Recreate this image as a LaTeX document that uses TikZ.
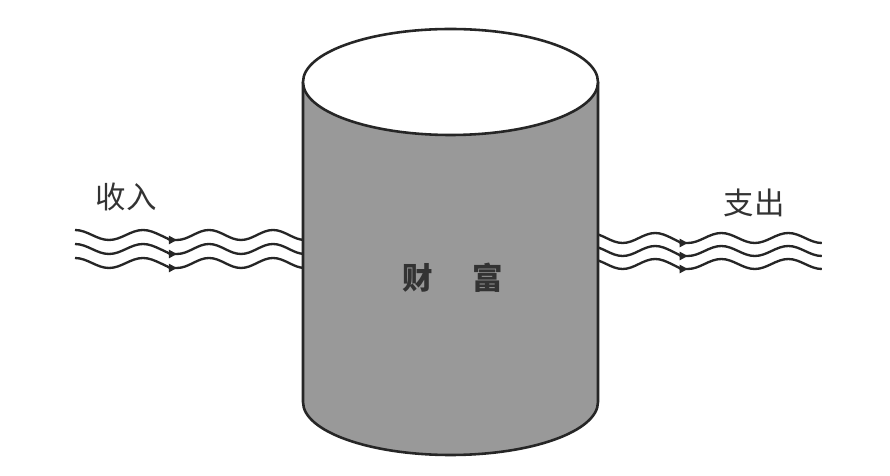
\documentclass[tikz,border=0pt]{standalone}
\usepackage{fontspec}
\newfontfamily\cjk{Noto Sans CJK SC}
\usetikzlibrary{arrows.meta,positioning}

\begin{document}
\begin{tikzpicture}[
  x=0.03cm, y=0.03cm,
  wave/.style={line width=2pt, draw=black!85},
  tip/.style={-{Triangle[length=7pt, width=7pt]}},
  lbl/.style={font=\cjk\fontsize{26}{30}\selectfont, text=black!80, inner sep=0pt},
  tank/.style={line width=2.2pt, draw=black!85}
]
  \useasboundingbox (0,0) rectangle (890,476);

  % income flows in
  \foreach \i/\y in {1/246,2/232,3/218} {
    \coordinate (in\i) at (75,\y);
    \draw[wave, tip] (in\i) cos ++(17,-5) sin ++(17,-5) cos ++(17,5) sin ++(17,5)
      cos ++(17,-5) sin ++(17,-5) coordinate (inmid\i);
    \draw[wave] ([xshift=-7pt]inmid\i) -- (inmid\i) cos ++(16,5) sin ++(16,5) cos ++(16,-5) sin ++(16,-5)
      cos ++(16,5) sin ++(16,5) cos ++(16,-5) sin ++(16,-5);
  }

  % spending flows out
  \foreach \i/\y in {1/243,2/230,3/217} {
    \coordinate (out\i) at (590,\y);
    \draw[wave, tip] (out\i) cos ++(16.3,-5) sin ++(16.3,-5) cos ++(16.3,5) sin ++(16.3,5)
      cos ++(16.3,-5) sin ++(16.3,-5) coordinate (outmid\i);
    \draw[wave] ([xshift=-7pt]outmid\i) -- (outmid\i) cos ++(16.75,5) sin ++(16.75,5) cos ++(16.75,-5) sin ++(16.75,-5)
      cos ++(16.75,5) sin ++(16.75,5) cos ++(16.75,-5) sin ++(16.75,-5);
  }

  % the tank
  \coordinate (tanktop) at (450.5,394);
  \coordinate (tankbot) at (450.5,74);
  \draw[tank, fill=black!40] (303,394) -- (303,74)
    arc[start angle=180, end angle=360, x radius=147.5, y radius=53] -- (598,394);
  \draw[tank, fill=white] (tanktop) ellipse [x radius=147.5, y radius=53];

  \node[lbl] (inc) at (126,279) {收入};
  \node[lbl] (spend) at (754,273) {支出};
  \node[lbl, font=\cjk\bfseries\fontsize{26}{30}\selectfont] (wealth) at (453,198) {财\hspace{1.3em}富};
\end{tikzpicture}
\end{document}
